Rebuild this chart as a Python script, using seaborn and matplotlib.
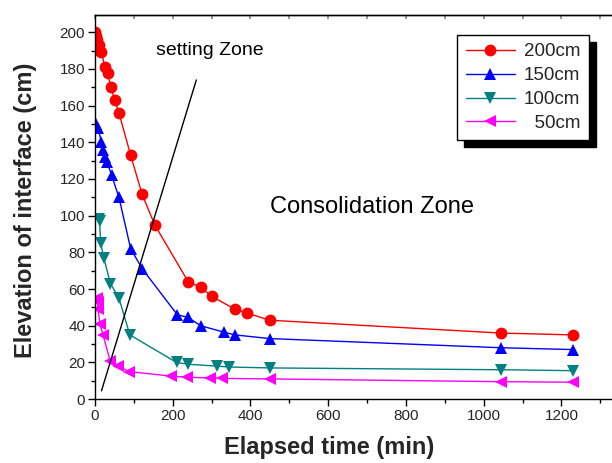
import matplotlib
matplotlib.use("Agg")
import matplotlib.pyplot as plt
from matplotlib.ticker import MultipleLocator
import seaborn as sns
import pandas as pd

# Interface elevation (cm) against elapsed time (min) for four initial heights
t_200 = [1, 3, 6, 10, 13, 17, 26, 33, 41, 51, 62, 92, 121, 154, 240, 272, 301, 360, 390, 450, 1045, 1230]
h_200 = [200, 198, 196, 193, 190, 189, 181, 178, 170, 163, 156, 133, 112, 95, 64, 61, 56, 49, 47, 43, 36, 35]

t_150 = [2, 8, 17, 21, 26, 32, 43, 62, 92, 122, 212, 240, 272, 332, 360, 450, 1045, 1230]
h_150 = [150, 148, 140, 136, 132, 129, 122, 110, 82, 71, 46, 44.5, 40, 36.5, 35, 33, 28, 27]

t_100 = [10, 12, 15, 23, 40, 62, 90, 210, 240, 313, 345, 450, 1045, 1230]
h_100 = [98, 97, 85, 77, 63, 55, 35, 20, 19, 18, 17.5, 17, 16, 15.5]

t_50 = [6, 7, 8, 13, 21, 39, 60, 88, 197, 236, 296, 326, 450, 1045, 1230]
h_50 = [55, 53, 49, 41, 35, 21, 18, 15, 12.5, 12, 11.5, 11.3, 11, 9.5, 9.2]

series_labels = ["200cm", "150cm", "100cm", "  50cm"]
series_colors = ["#FF0000", "#0000FF", "#008080", "#FF00FF"]
series_markers = ["o", "^", "v", "<"]

# Boundary between the settling and consolidation zones
divider_t = [17, 261]
divider_h = [4.5, 174]

frames = []
for lab, t, h in zip(series_labels, [t_200, t_150, t_100, t_50], [h_200, h_150, h_100, h_50]):
    frames.append(pd.DataFrame({"time": t, "height": h, "series": lab}))
df = pd.concat(frames, ignore_index=True)

sns.set_theme(style="white")
plt.rcParams["font.family"] = ["Liberation Sans", "DejaVu Sans"]

fig = plt.figure(figsize=(6.12, 4.63), dpi=100)
ax = fig.add_axes([0.155, 0.138, 0.845, 0.830])

sns.lineplot(
    data=df, x="time", y="height", hue="series", style="series",
    hue_order=series_labels, style_order=series_labels,
    palette=dict(zip(series_labels, series_colors)),
    markers=dict(zip(series_labels, series_markers)),
    dashes=False, sort=False, linewidth=1.0, markersize=8.5,
    markeredgewidth=0, ax=ax,
)
sns.lineplot(x=divider_t, y=divider_h, color="black", linewidth=1.0, ax=ax, legend=False)

ax.text(296, 190, "setting Zone", fontsize=14, ha="center", va="center", color="black")
ax.text(713, 105, "Consolidation Zone", fontsize=17, ha="center", va="center", color="black")

ax.set_xlim(0, 1330)
ax.set_ylim(0, 209.5)
ax.xaxis.set_major_locator(MultipleLocator(200))
ax.xaxis.set_minor_locator(MultipleLocator(100))
ax.yaxis.set_major_locator(MultipleLocator(20))
ax.yaxis.set_minor_locator(MultipleLocator(10))
ax.tick_params(axis="both", which="major", direction="out", length=5, width=1,
               color="black", labelsize=11, bottom=True, left=True, pad=2)
ax.tick_params(axis="both", which="minor", direction="out", length=3, width=1,
               color="black", bottom=True, left=True)

top = ax.secondary_xaxis("top")
top.xaxis.set_major_locator(MultipleLocator(100))
top.tick_params(direction="in", length=3, color="#888888", labeltop=False)

for side in ["left", "bottom", "top"]:
    ax.spines[side].set_visible(True)
    ax.spines[side].set_color("black")
    ax.spines[side].set_linewidth(1.0)
top.spines["top"].set_linewidth(1.0)
ax.spines["right"].set_visible(False)

ax.set_xlabel("Elapsed time (min)", fontsize=17, fontweight="bold")
ax.set_ylabel("Elevation of interface (cm)", fontsize=17, fontweight="bold")
ax.xaxis.label.set_va("center")
ax.yaxis.label.set_va("center")
ax.xaxis.set_label_coords(0.453, -0.125)
ax.yaxis.set_label_coords(-0.135, 0.49)

leg = ax.legend(
    title=None, loc="upper right", bbox_to_anchor=(0.9555, 0.948), borderaxespad=0,
    fontsize=13.5, frameon=True, fancybox=False, edgecolor="black",
    handlelength=2.6, handletextpad=0.5, borderpad=0.45, labelspacing=0.36,
    shadow={"color": "black", "alpha": 1.0, "ox": 5, "oy": -5},
)
leg.get_frame().set_linewidth(1.0)

fig.savefig("out.png", dpi=100)
